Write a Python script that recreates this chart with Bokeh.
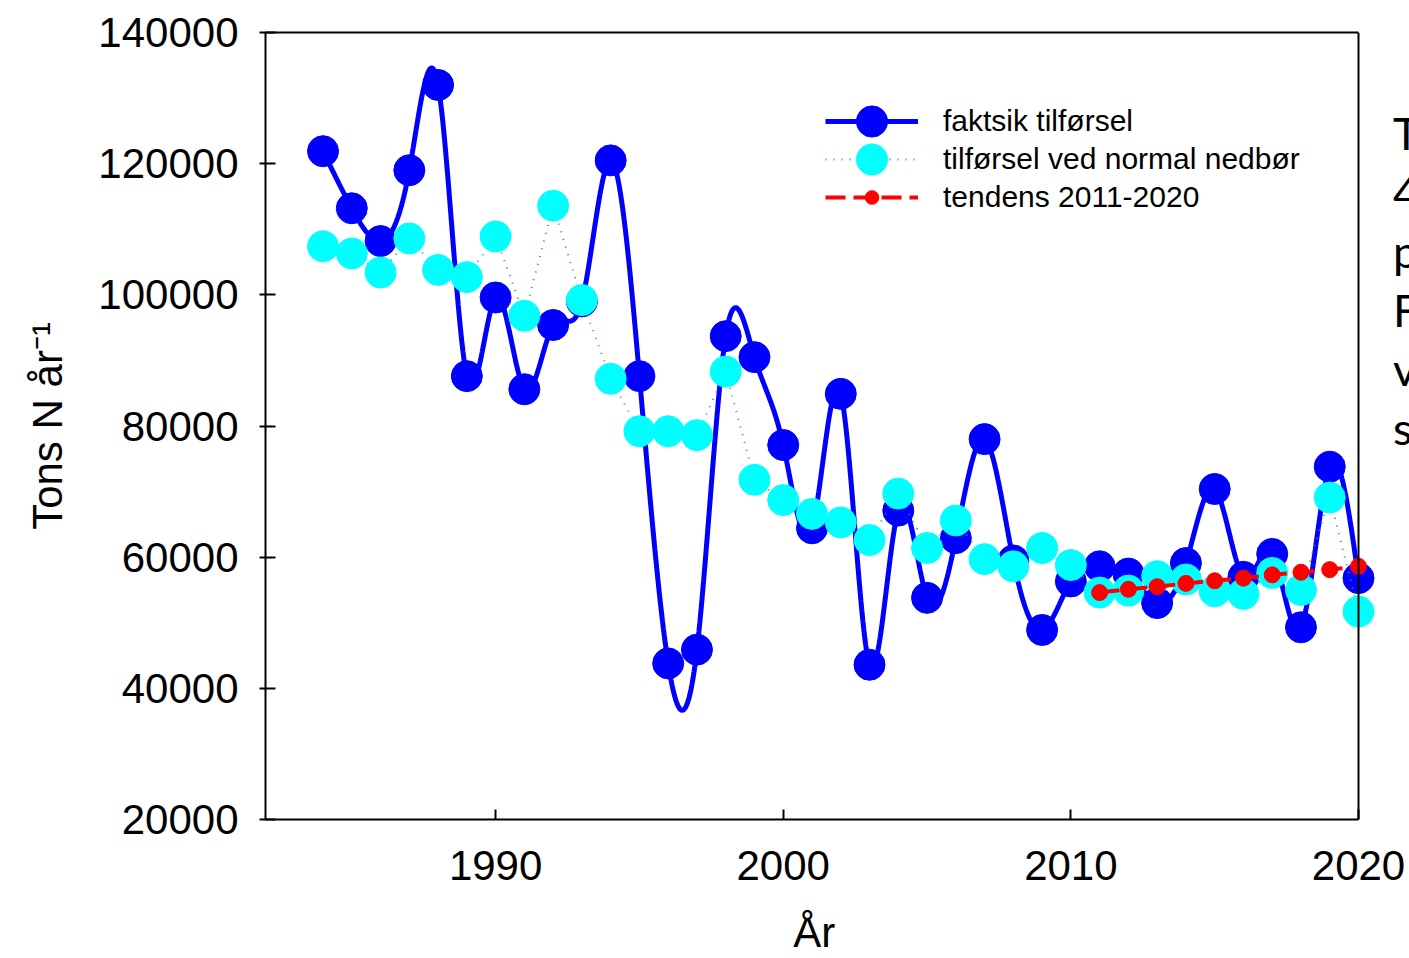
import numpy as np
from bokeh.plotting import figure
from bokeh.models import (Legend, LegendItem, Range1d, FixedTicker, BasicTickFormatter,
                          ColumnDataSource, LinearAxis, Span)
from bokeh.embed import file_html
from bokeh.resources import INLINE

# ---------------- data ----------------
years = list(range(1984, 2021))
faktisk = [121900, 113200, 108200, 119000, 132000, 87600, 99600, 85600, 95400, 99000,
           120500, 87600, 43800, 45900, 93700, 90500, 77100, 64400, 84900, 43600,
           67100, 53800, 62900, 78000, 59500, 48900, 56300, 58600, 57500, 53000,
           59100, 70400, 57000, 60500, 49300, 73800, 56800]
normal = [107400, 106300, 103400, 108600, 103800, 102700, 108900, 96800, 113600, 99200,
          87200, 79200, 79200, 78600, 88300, 71800, 68700, 66600, 65300, 62600,
          69700, 61400, 65600, 59700, 58600, 61400, 58800, 54600, 54900, 57100,
          56600, 54800, 54400, 57600, 55000, 69100, 51700]
trend_years = list(range(2011, 2021))
trend = [54600, 55100, 55500, 56000, 56400, 56800, 57300, 57700, 58100, 58600]

x_start, x_end = 1982, 2020
y_start, y_end = 20000, 140000
x_ticks = [1990, 2000, 2010, 2020]
y_ticks = [20000, 40000, 60000, 80000, 100000, 120000, 140000]
legend_labels = ["faktsik tilførsel", "tilførsel ved normal nedbør", "tendens 2011-2020"]
side_text = ["T", "4", "p", "F", "v", "s"]


def natural_spline(x, y, n=30):
    x = np.asarray(x, float)
    y = np.asarray(y, float)
    N = len(x)
    h = np.diff(x)
    A = np.zeros((N, N))
    b = np.zeros(N)
    A[0, 0] = A[-1, -1] = 1
    for i in range(1, N - 1):
        A[i, i - 1] = h[i - 1]
        A[i, i] = 2 * (h[i - 1] + h[i])
        A[i, i + 1] = h[i]
        b[i] = 3 * ((y[i + 1] - y[i]) / h[i] - (y[i] - y[i - 1]) / h[i - 1])
    c = np.linalg.solve(A, b)
    xs, ys = [], []
    for i in range(N - 1):
        t = np.linspace(0, h[i], n, endpoint=(i == N - 2))
        bb = (y[i + 1] - y[i]) / h[i] - h[i] * (2 * c[i] + c[i + 1]) / 3
        d = (c[i + 1] - c[i]) / (3 * h[i])
        xs.extend(x[i] + t)
        ys.extend(y[i] + bb * t + c[i] * t ** 2 + d * t ** 3)
    return xs, ys


FONT = "Liberation Sans"
W, H = 1409, 958
LEFT, TOP, BOTTOM = 265, 32, 138
BOX_RIGHT = 1358                      # right edge of the drawn axes box
px_per_year = (BOX_RIGHT - LEFT) / (x_end - x_start)
# the plotting frame runs to the picture edge so that the last markers and the
# page text at the right are not clipped; the box itself stops at x_end
x_view_end = x_end + (W - BOX_RIGHT) / px_per_year

p = figure(width=W, height=H,
           x_range=Range1d(x_start, x_view_end), y_range=Range1d(y_start, y_end),
           output_backend="svg", toolbar_location=None,
           min_border_left=LEFT, min_border_right=0, min_border_top=TOP, min_border_bottom=BOTTOM)
p.xgrid.visible = False
p.ygrid.visible = False
p.outline_line_color = None
p.background_fill_color = "white"
p.border_fill_color = "white"

# axes
p.xaxis.ticker = FixedTicker(ticks=x_ticks)
p.xaxis.bounds = (x_start, x_end)
p.yaxis.ticker = FixedTicker(ticks=y_ticks)
p.yaxis.formatter = BasicTickFormatter(use_scientific=False)
for ax in (p.xaxis[0], p.yaxis[0]):
    ax.axis_line_color = "black"
    ax.axis_line_width = 2
    ax.major_tick_line_color = "black"
    ax.major_tick_line_width = 2
    ax.minor_tick_line_color = None
    ax.major_label_text_font = FONT
    ax.major_label_text_font_size = "42px"
    ax.major_label_text_color = "black"
    ax.axis_label_text_font = FONT
    ax.axis_label_text_font_size = "42px"
    ax.axis_label_text_font_style = "normal"
    ax.axis_label_text_color = "black"
p.xaxis.major_tick_in = 10
p.xaxis.major_tick_out = 0
p.xaxis.major_label_standoff = 31
# trailing no-break spaces centre the title under the box rather than the wider frame
p.xaxis.axis_label = "År" + "\u00a0" * 4
p.xaxis.axis_label_standoff = 26
p.yaxis.major_tick_in = 10
p.yaxis.major_tick_out = 6
p.yaxis.major_label_standoff = 21
p.yaxis.axis_label = "Tons N år\u207b\u00b9"
p.yaxis.axis_label_standoff = 24

# top edge of the box
top_axis = LinearAxis(ticker=FixedTicker(ticks=[]), bounds=(x_start, x_end),
                      axis_line_color="black", axis_line_width=2,
                      major_tick_line_color=None, minor_tick_line_color=None,
                      major_label_text_font_size="0px")
p.add_layout(top_axis, "above")
# right edge of the box
p.add_layout(Span(location=x_end, dimension="height", line_color="black", line_width=2))

# data renderers
sx, sy = natural_spline(years, faktisk)
src = ColumnDataSource(dict(year=years, faktisk=faktisk, normal=normal))
tsrc = ColumnDataSource(dict(year=trend_years, trend=trend))

r_bl = p.line(sx, sy, line_color="#0000ff", line_width=5)
r_bm = p.scatter("year", "faktisk", source=src, size=31, fill_color="#0000ff", line_color="#0000ff")
r_cl = p.line("year", "normal", source=src, line_color="#2a9a9a", line_width=2, line_dash="1 7")
r_cm = p.scatter("year", "normal", source=src, size=31, fill_color="#00ffff", line_color="#00ffff")
r_rl = p.line("year", "trend", source=tsrc, line_color="#ff0000", line_width=4, line_dash="20 8")
r_rm = p.scatter("year", "trend", source=tsrc, size=16, fill_color="#ff0000", line_color="#ff0000")


def make_legend(items, loc, gh, font=FONT, size="30px", gw=93, standoff=25):
    lg = Legend(items=items, location=loc)
    lg.border_line_color = None
    lg.background_fill_alpha = 0
    lg.padding = 0
    lg.margin = 0
    lg.spacing = 0
    lg.glyph_width = gw
    lg.glyph_height = gh
    lg.label_standoff = standoff
    lg.label_text_font = font
    lg.label_text_font_size = size
    lg.label_text_color = "black"
    p.add_layout(lg)
    return lg


make_legend([LegendItem(label=legend_labels[0], renderers=[r_bl, r_bm])], (560, 659), 78)
make_legend([LegendItem(label=legend_labels[1], renderers=[r_cl, r_cm])], (560, 621), 78)
make_legend([LegendItem(label=legend_labels[2], renderers=[r_rl, r_rm])], (560, 605), 34)

# truncated paragraph text at the right edge of the picture
make_legend([LegendItem(label=t, renderers=[]) for t in side_text], (1128, 362), 59,
            font="Lato", size="45px", gw=0, standoff=0)

open("out.html", "w").write(file_html(p, INLINE))
